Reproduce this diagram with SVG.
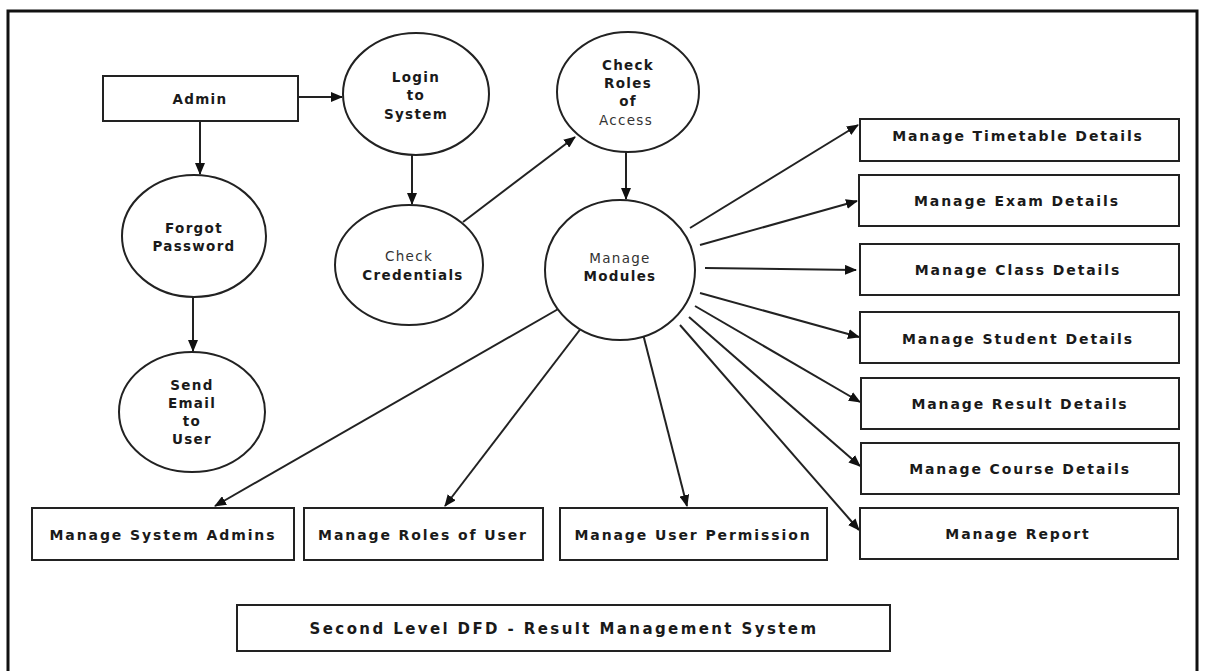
<svg xmlns="http://www.w3.org/2000/svg" width="1205" height="671" viewBox="0 0 1205 671">
  <style>
    .frame { fill: #ffffff; stroke: #111111; stroke-width: 3; }
    .box { fill: #ffffff; stroke: #222222; stroke-width: 2; }
    .proc { fill: #ffffff; stroke: #222222; stroke-width: 2; }
    .lbl { font-family: "DejaVu Sans", "Liberation Sans", sans-serif; font-weight: bold; font-size: 13.5px; letter-spacing: 1.3px; fill: #1a1a1a; text-anchor: middle; dominant-baseline: central; }
    .wide { font-size: 14px; letter-spacing: 1.9px; }
    .thin { font-weight: normal; fill: #333333; }
    .title { font-size: 15px; letter-spacing: 2.4px; }
    .flow { stroke: #222222; stroke-width: 2; fill: none; marker-end: url(#arrow); }
  </style>
  <defs>
    <marker id="arrow" viewBox="0 0 12 10" refX="11" refY="5" markerWidth="12" markerHeight="10" markerUnits="userSpaceOnUse" orient="auto">
      <path d="M0,0 L12,5 L0,10 Z" fill="#111111"/>
    </marker>
  </defs>

  <rect class="frame" x="8" y="11" width="1189" height="672"/>

  <g id="connectors">
    <line class="flow" x1="298" y1="97" x2="342" y2="97"/>
    <line class="flow" x1="200" y1="121" x2="200" y2="174"/>
    <line class="flow" x1="412" y1="155" x2="412" y2="204"/>
    <line class="flow" x1="193" y1="297" x2="193" y2="351"/>
    <line class="flow" x1="463" y1="222" x2="575" y2="137"/>
    <line class="flow" x1="626" y1="152" x2="626" y2="199"/>
    <line class="flow" x1="690" y1="228" x2="858" y2="125"/>
    <line class="flow" x1="700" y1="245" x2="857" y2="201"/>
    <line class="flow" x1="705" y1="268" x2="856" y2="270"/>
    <line class="flow" x1="700" y1="293" x2="859" y2="337"/>
    <line class="flow" x1="695" y1="306" x2="860" y2="402"/>
    <line class="flow" x1="689" y1="317" x2="860" y2="466"/>
    <line class="flow" x1="680" y1="325" x2="859" y2="530"/>
    <line class="flow" x1="643" y1="334" x2="687" y2="506"/>
    <line class="flow" x1="582" y1="327" x2="445" y2="506"/>
    <line class="flow" x1="560" y1="308" x2="215" y2="506"/>
  </g>

  <g id="admin">
    <rect class="box" x="103" y="76" width="195" height="45"/>
    <text class="lbl" x="200" y="99">Admin</text>
  </g>

  <g id="login-to-system">
    <ellipse class="proc" cx="416" cy="94" rx="73" ry="61"/>
    <text class="lbl" x="416" y="77">Login</text>
    <text class="lbl" x="416" y="95">to</text>
    <text class="lbl" x="416" y="114">System</text>
  </g>

  <g id="forgot-password">
    <ellipse class="proc" cx="194" cy="236" rx="72" ry="61"/>
    <text class="lbl" x="194" y="228">Forgot</text>
    <text class="lbl" x="194" y="246">Password</text>
  </g>

  <g id="check-credentials">
    <ellipse class="proc" cx="409" cy="265" rx="74" ry="60"/>
    <text class="lbl thin" x="409" y="256">Check</text>
    <text class="lbl" x="413" y="275">Credentials</text>
  </g>

  <g id="send-email">
    <ellipse class="proc" cx="192" cy="412" rx="73" ry="60"/>
    <text class="lbl" x="192" y="385">Send</text>
    <text class="lbl" x="192" y="403">Email</text>
    <text class="lbl" x="192" y="421">to</text>
    <text class="lbl" x="192" y="439">User</text>
  </g>

  <g id="check-roles">
    <ellipse class="proc" cx="628" cy="92" rx="71" ry="60"/>
    <text class="lbl" x="628" y="65">Check</text>
    <text class="lbl" x="628" y="83">Roles</text>
    <text class="lbl" x="628" y="101">of</text>
    <text class="lbl thin" x="626" y="120">Access</text>
  </g>

  <g id="manage-modules">
    <ellipse class="proc" cx="620" cy="270" rx="75" ry="70"/>
    <text class="lbl thin" x="620" y="258">Manage</text>
    <text class="lbl" x="620" y="276">Modules</text>
  </g>

  <g id="timetable">
    <rect class="box" x="860" y="119" width="319" height="42"/>
    <text class="lbl wide" x="1018" y="136">Manage Timetable Details</text>
  </g>
  <g id="exam">
    <rect class="box" x="859" y="175" width="320" height="51"/>
    <text class="lbl wide" x="1017" y="201">Manage Exam Details</text>
  </g>
  <g id="class">
    <rect class="box" x="860" y="244" width="319" height="51"/>
    <text class="lbl wide" x="1018" y="270">Manage Class Details</text>
  </g>
  <g id="student">
    <rect class="box" x="860" y="312" width="319" height="51"/>
    <text class="lbl wide" x="1018" y="339">Manage Student Details</text>
  </g>
  <g id="result">
    <rect class="box" x="861" y="378" width="318" height="51"/>
    <text class="lbl wide" x="1020" y="404">Manage Result Details</text>
  </g>
  <g id="course">
    <rect class="box" x="861" y="443" width="318" height="51"/>
    <text class="lbl wide" x="1020" y="469">Manage Course Details</text>
  </g>
  <g id="report">
    <rect class="box" x="860" y="508" width="318" height="51"/>
    <text class="lbl wide" x="1018" y="534">Manage Report</text>
  </g>

  <g id="system-admins">
    <rect class="box" x="32" y="508" width="262" height="52"/>
    <text class="lbl wide" x="163" y="535">Manage System Admins</text>
  </g>
  <g id="roles-of-user">
    <rect class="box" x="304" y="508" width="239" height="52"/>
    <text class="lbl wide" x="423" y="535">Manage Roles of User</text>
  </g>
  <g id="user-permission">
    <rect class="box" x="560" y="508" width="267" height="52"/>
    <text class="lbl wide" x="693" y="535">Manage User Permission</text>
  </g>

  <g id="title">
    <rect class="box" x="237" y="605" width="653" height="46"/>
    <text class="lbl title" x="564" y="629">Second Level DFD - Result Management System</text>
  </g>
</svg>
